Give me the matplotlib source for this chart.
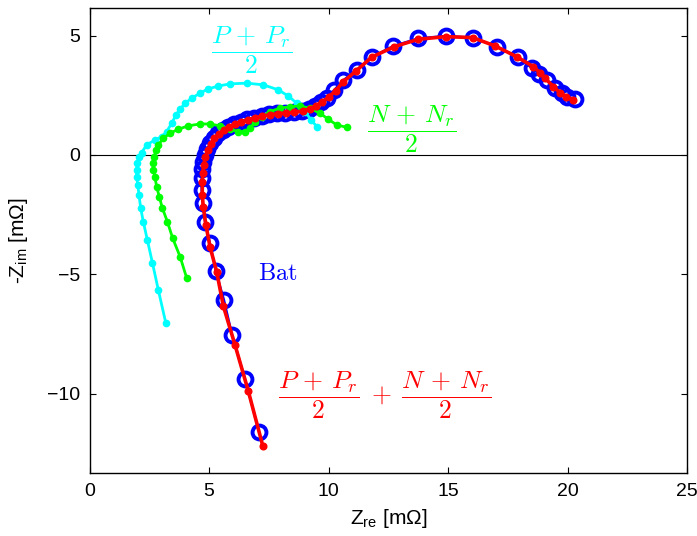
import matplotlib
matplotlib.use("Agg")
import matplotlib.pyplot as plt

plt.rcParams['font.family'] = ['Liberation Sans', 'DejaVu Sans']
plt.rcParams['mathtext.fontset'] = 'custom'
plt.rcParams['mathtext.rm'] = 'Liberation Sans'
plt.rcParams['mathtext.it'] = 'Liberation Sans:italic'

# ---- data ----
bat_re = [7.09, 6.51, 5.97, 5.63, 5.28, 5.04, 4.83, 4.74, 4.69, 4.69, 4.71, 4.76, 4.83, 4.92,
          5.05, 5.20, 5.38, 5.58, 5.80, 6.05, 6.32, 6.60, 6.90, 7.20, 7.52, 7.85, 8.20, 8.55,
          8.90, 9.20, 9.45, 9.70, 9.92, 10.24, 10.62, 11.18, 11.81, 12.71, 13.76, 14.90, 16.03,
          17.06, 17.94, 18.50, 18.82, 19.13, 19.48, 19.76, 19.97, 20.31]
bat_im = [-11.60, -9.39, -7.55, -6.08, -4.85, -3.69, -2.80, -2.01, -1.47, -0.96, -0.60, -0.30,
          -0.02, 0.25, 0.50, 0.72, 0.90, 1.05, 1.19, 1.30, 1.40, 1.49, 1.57, 1.64, 1.70, 1.74,
          1.77, 1.80, 1.85, 1.93, 2.05, 2.20, 2.38, 2.73, 3.14, 3.56, 4.10, 4.57, 4.89, 4.99,
          4.92, 4.54, 4.10, 3.64, 3.40, 3.14, 2.80, 2.59, 2.44, 2.34]

sum_re = [7.25, 6.64, 6.09, 5.60, 5.32, 5.04, 4.87, 4.76, 4.72, 4.72, 4.74, 4.78, 4.85, 4.95,
          5.08, 5.23, 5.41, 5.61, 5.83, 6.08, 6.35, 6.63, 6.93, 7.23, 7.55, 7.88, 8.22, 8.57,
          8.92, 9.22, 9.47, 9.72, 10.03, 10.30, 10.62, 11.15, 11.81, 12.75, 13.76, 14.90, 16.03,
          16.97, 17.87, 18.57, 18.85, 19.06, 19.41, 19.70, 19.95, 20.24]
sum_im = [-12.19, -9.88, -7.97, -6.33, -4.89, -3.84, -2.93, -2.17, -1.68, -1.15, -0.75, -0.40,
          -0.08, 0.22, 0.48, 0.70, 0.88, 1.03, 1.17, 1.29, 1.39, 1.48, 1.56, 1.63, 1.69, 1.73,
          1.76, 1.79, 1.84, 1.93, 2.05, 2.22, 2.44, 2.70, 3.07, 3.52, 4.10, 4.54, 4.85, 4.96,
          4.92, 4.57, 4.12, 3.70, 3.45, 3.22, 2.86, 2.60, 2.45, 2.31]

pos_re = [3.19, 2.88, 2.63, 2.42, 2.25, 2.14, 2.07, 2.02, 1.97, 1.97, 2.00, 2.07, 2.18, 2.39,
          2.74, 3.02, 3.23, 3.44, 3.62, 3.79, 4.00, 4.28, 4.62, 4.97, 5.39, 5.88, 6.58, 7.27,
          7.90, 8.32, 8.67, 9.02, 9.27, 9.51]
pos_im = [-7.03, -5.66, -4.51, -3.56, -2.80, -2.21, -1.68, -1.26, -0.91, -0.63, -0.35, -0.10,
          0.10, 0.42, 0.63, 0.77, 0.98, 1.33, 1.68, 1.92, 2.17, 2.38, 2.59, 2.77, 2.89, 2.98,
          3.01, 2.94, 2.73, 2.47, 2.17, 1.82, 1.47, 1.19]

neg_re = [4.07, 3.79, 3.48, 3.26, 3.05, 2.92, 2.81, 2.74, 2.67, 2.67, 2.71, 2.78, 2.88, 3.09,
          3.37, 3.72, 4.13, 4.62, 5.04, 5.46, 5.88, 6.23, 6.51, 6.72, 6.92, 7.21, 7.55, 7.97,
          8.39, 8.81, 9.23, 9.64, 9.99, 10.34, 10.76]
neg_im = [-5.17, -4.26, -3.49, -2.80, -2.23, -1.75, -1.33, -0.94, -0.63, -0.35, -0.07, 0.21,
          0.42, 0.70, 0.91, 1.08, 1.22, 1.30, 1.30, 1.22, 1.08, 0.98, 0.98, 1.12, 1.40, 1.61,
          1.82, 1.96, 2.03, 2.05, 1.96, 1.75, 1.50, 1.26, 1.16]

x_ticks = [0, 5, 10, 15, 20, 25]
y_ticks = [-10, -5, 0, 5]

# ---- figure ----
fig = plt.figure(figsize=(6.97, 5.36), dpi=100)
ax = fig.add_axes([89.5 / 697, 63 / 536, 597.5 / 697, 465 / 536])

ax.axhline(0, color='black', lw=0.8, zorder=1)

ax.plot(bat_re, bat_im, '-o', color='blue', lw=1.6, ms=10, mew=2.8,
        mfc='none', mec='blue', zorder=2)
ax.plot(pos_re, pos_im, '-o', color='cyan', lw=2.0, ms=4.5, zorder=3)
ax.plot(neg_re, neg_im, '-o', color='#00ff00', lw=2.0, ms=4.5, zorder=4)
ax.plot(sum_re, sum_im, '-o', color='red', lw=2.6, ms=4.8, zorder=5)

tkw = dict(math_fontfamily='cm', ha='center', va='center', fontsize=18.5)
ax.text(6.78, 4.37, r'$\dfrac{P\,+\,P_r}{2}$', color='cyan', **tkw)
ax.text(13.47, 1.09, r'$\dfrac{N\,+\,N_r}{2}$', color='#00ff00', **tkw)
ax.text(7.87, -5.0, r'$\mathrm{Bat}$', color='blue', math_fontfamily='cm',
        ha='center', va='center', fontsize=17.5)
ax.text(12.34, -10.09, r'$\dfrac{P\,+\,P_r}{2}\;+\;\dfrac{N\,+\,N_r}{2}$', color='red', **tkw)

ax.set_xlim(0, 25)
ax.set_ylim(-13.33, 6.16)
ax.set_xticks(x_ticks)
ax.set_yticks(y_ticks)
ax.set_xticklabels([str(v) for v in x_ticks])
ax.set_yticklabels([str(v).replace('-', '\u2212') for v in y_ticks])
ax.tick_params(direction='in', top=True, right=True, length=4, width=0.8,
               labelsize=14, pad=7)
for s in ax.spines.values():
    s.set_linewidth(1.0)

ax.set_xlabel(r'Z$_{\rm re}$ [m$\Omega$]', fontsize=15, labelpad=5)
ax.set_ylabel(r'-Z$_{\rm im}$ [m$\Omega$]', fontsize=15, labelpad=12)

fig.savefig('out.png', dpi=100)
